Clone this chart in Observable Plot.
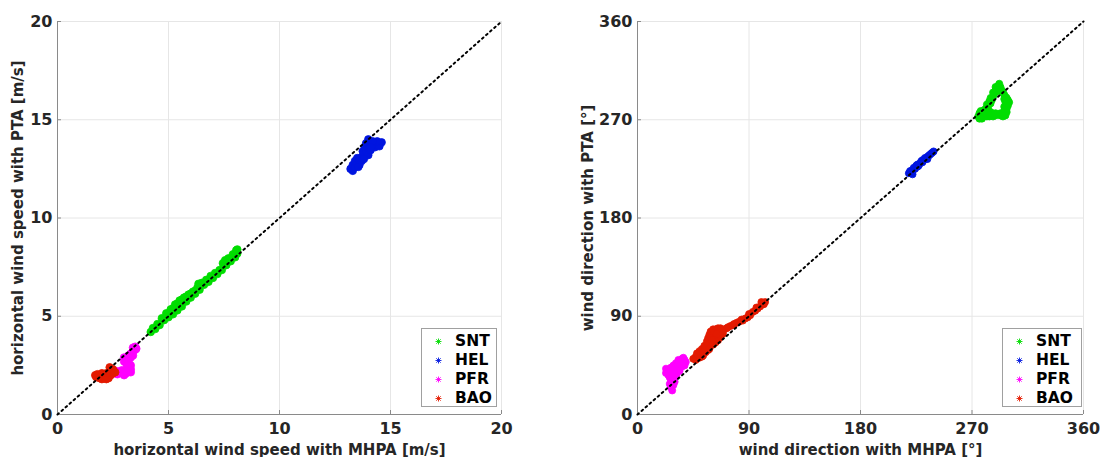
<!DOCTYPE html>
<html>
<head>
<meta charset="utf-8">
<script src="https://cdn.jsdelivr.net/npm/d3@7"></script>
<script src="https://cdn.jsdelivr.net/npm/@observablehq/plot@0.6"></script>
<style>
  html, body { margin: 0; padding: 0; background: white; }
  #wrap { display: flex; width: 1100px; height: 457px; }
  .panel { position: relative; width: 550px; height: 457px; }
  .legend { position: absolute; top: 328px; height: 77px; border: 1px solid #a0a0a0; background: white;
            font-family: "DejaVu Sans", sans-serif; font-weight: bold; font-size: 15.5px; color: #000; }
  .legend .row { position: absolute; left: 0; height: 19px; line-height: 19px; white-space: nowrap; }
  .legend svg { position: absolute; top: 6px; }
  .legend span { position: absolute; }
</style>
</head>
<body>
<div id="wrap"><div class="panel" id="p1"></div><div class="panel" id="p2"></div></div>
<script>
// ---- data ----
const seriesNames = ["SNT", "HEL", "PFR", "BAO"];
const seriesColors = ["#00dd00", "#0015e0", "#ff00ff", "#e31a00"];

const speedTicks = [0, 5, 10, 15, 20];
const dirTicks = [0, 90, 180, 270, 360];
const speedDiag = [[0, 0], [20, 20]];
const dirDiag = [[0, 0], [360, 360]];

// horizontal wind speed [m/s]: [MHPA, PTA]
const sntSpeed = [[4.2,4.2],[4.3,4.4],[4.4,4.35],[4.5,4.6],[4.6,4.55],[4.7,4.9],[4.8,4.8],[4.9,5.15],[5.0,4.95],[5.0,5.05],[5.1,5.35],[5.2,5.1],[5.3,5.6],[5.3,5.45],[5.4,5.3],[5.5,5.8],[5.6,5.5],[5.6,5.65],[5.7,5.95],[5.8,5.75],[5.9,6.1],[5.9,5.95],[6.0,5.95],[6.1,6.25],[6.2,6.15],[6.2,6.3],[6.3,6.45],[6.35,6.65],[6.4,6.35],[6.5,6.7],[6.6,6.6],[6.7,6.85],[6.8,6.75],[6.9,7.05],[7.0,6.95],[7.1,7.2],[7.2,7.15],[7.3,7.35],[7.4,7.35],[7.45,7.7],[7.55,7.85],[7.6,7.6],[7.7,7.95],[7.8,7.8],[7.9,8.15],[8.0,8.0],[8.05,8.35],[8.1,8.2],[8.1,8.4],[5.2,5.4],[5.4,5.65],[5.6,5.85],[5.8,6.0],[5.5,5.55],[5.7,5.75],[6.0,6.15]];
const helSpeed = [[13.2,12.5],[13.3,12.4],[13.3,12.7],[13.4,12.6],[13.4,12.9],[13.5,12.8],[13.5,13.05],[13.6,12.95],[13.7,13.1],[13.7,12.9],[13.8,13.2],[13.75,13.4],[13.9,13.4],[14.0,13.2],[13.85,13.6],[14.0,13.6],[14.1,13.45],[13.9,13.8],[14.0,14.0],[14.1,13.8],[14.2,13.65],[14.3,13.8],[14.3,13.6],[14.4,13.7],[14.5,13.8],[14.6,13.85],[14.5,13.65],[14.4,13.9],[14.2,13.9],[13.6,12.7],[13.8,13.0],[13.55,12.6],[14.1,13.6]];
const pfrSpeed = [[2.6,2.1],[2.7,2.2],[2.7,2.05],[2.8,2.15],[2.9,2.1],[2.9,2.25],[3.0,2.0],[3.0,2.2],[3.1,2.1],[3.1,2.3],[3.2,2.2],[3.3,2.3],[3.3,2.15],[3.2,2.45],[3.1,2.6],[3.0,2.7],[3.0,2.9],[3.1,2.8],[3.2,3.0],[3.3,2.9],[3.2,2.7],[3.3,2.5],[3.3,3.1],[3.4,3.2],[3.4,3.0],[3.5,3.3],[3.5,3.45],[3.4,3.4],[3.55,3.35]];
const baoSpeed = [[1.7,2.0],[1.75,1.9],[1.8,2.05],[1.9,1.85],[1.9,2.0],[2.0,1.8],[2.0,1.95],[2.1,1.85],[2.1,2.05],[2.2,1.8],[2.2,1.95],[2.3,1.85],[2.3,2.1],[2.35,2.4],[2.4,2.25],[2.4,2.0],[2.5,2.1],[2.5,2.3],[2.6,2.15],[2.2,2.1],[2.0,2.1]];

// wind direction [deg]: [MHPA, PTA]
const sntDir = [[275,273],[276,276],[278,275],[279,278],[280,273],[281,280],[282,276],[283,282],[284,273],[285,285],[286,276],[286,288],[287,291],[288,294],[289,297],[290,299],[291,301],[292,303],[293,300],[294,297],[295,295],[296,293],[297,291],[298,290],[299,288],[300,286],[299,283],[298,280],[298,277],[297,274],[295,273],[293,274],[291,275],[289,274],[287,273],[285,277],[283,279],[278,271],[276,271],[277,278],[280,279],[282,284],[284,287],[285,290],[287,295],[289,300],[291,296],[296,289],[297,286],[296,282],[296,278],[293,276],[289,276],[282,273]];
const helDir = [[219,221],[220,223],[221,222],[222,224],[223,226],[224,225],[225,228],[226,229],[227,228],[228,230],[229,232],[230,231],[231,233],[232,235],[233,234],[234,236],[235,237],[236,238],[237,239],[238,240],[239,241],[222,220],[226,227],[230,233],[234,234]];
const pfrDir = [[23,38],[24,41],[25,36],[26,40],[27,43],[28,38],[29,34],[27,31],[26,28],[27,25],[28,22],[29,27],[30,30],[31,36],[32,40],[33,43],[34,46],[35,49],[36,51],[37,52],[38,50],[39,48],[38,45],[36,44],[34,40],[32,38],[30,42],[29,45],[31,47],[33,50],[26,34],[24,39],[35,47],[28,41],[30,38],[32,45],[34,49],[36,47],[23,42],[27,37],[29,30]];
const baoDir = [[45,51],[47,53],[49,52],[50,55],[52,56],[53,54],[54,58],[55,60],[56,62],[57,65],[58,68],[59,71],[60,74],[61,76],[62,73],[63,70],[64,72],[65,75],[66,77],[68,76],[70,78],[72,79],[75,81],[78,83],[80,84],[82,85],[85,86],[87,88],[89,89],[91,91],[93,94],[95,95],[97,97],[99,99],[101,101],[103,103],[60,64],[62,67],[58,62],[52,53],[57,59],[48,56],[50,58],[52,60],[54,63],[56,67],[57,70],[58,73],[59,76],[61,78],[63,78],[65,79],[67,79],[55,57],[58,60],[61,64],[63,66],[65,68],[67,71],[69,74],[62,70],[64,74],[60,68],[47,50],[50,52],[53,57],[56,59],[73,80],[77,82],[84,87],[90,92],[96,98],[100,103],[102,101]];

// ---- build ----
function rows(list) {
  return list.flatMap((pts, i) => pts.map(([x, y]) => ({x, y, s: seriesNames[i]})));
}
const AX = "#8a8a8a", GRID = "#e6e6e6", TXT = "#262626";

function panel({data, ticks, diag, xLabel, yLabel, marginLeft, marginRight, yLabelOffset, r}) {
  const dom = [ticks[0], ticks[ticks.length - 1]];
  return Plot.plot({
    width: 550, height: 457,
    marginLeft, marginRight, marginTop: 21, marginBottom: 43,
    style: {fontFamily: "DejaVu Sans, sans-serif", fontWeight: "bold", fontSize: "15px", color: TXT, background: "white", overflow: "visible"},
    x: {domain: dom},
    y: {domain: dom},
    color: {domain: seriesNames, range: seriesColors},
    marks: [
      Plot.gridX(ticks, {stroke: GRID, strokeOpacity: 1}),
      Plot.gridY(ticks, {stroke: GRID, strokeOpacity: 1}),
      Plot.axisX(ticks, {tickSize: 0, tickPadding: 8, label: null, fontSize: 16, fill: TXT}),
      Plot.axisY(ticks, {tickSize: 0, tickPadding: 5, label: null, fontSize: 16, fill: TXT}),
      Plot.axisX(ticks, {tickSize: 0, text: null, label: xLabel, labelAnchor: "center", labelArrow: "none", labelOffset: 40, fontSize: 15, fill: TXT}),
      Plot.axisY(ticks, {tickSize: 0, text: null, label: yLabel, labelAnchor: "center", labelArrow: "none", labelOffset: yLabelOffset, fontSize: 15, fill: TXT}),
      Plot.axisX(ticks.slice(1), {text: null, label: null, tickSize: 4, dy: -4, stroke: AX}),
      Plot.axisY(ticks.slice(1), {text: null, label: null, tickSize: 4, dx: 4, stroke: AX}),
      Plot.ruleY([dom[0]], {stroke: AX}),
      Plot.ruleX([dom[0]], {stroke: AX}),
      Plot.dot(data, {x: "x", y: "y", fill: "s", stroke: "s", r, strokeWidth: 0.8}),
      Plot.line(diag, {x: d => d[0], y: d => d[1], stroke: "black", strokeWidth: 2, strokeDasharray: "1.8,3.6"})
    ]
  });
}

function legend(left, width) {
  const div = document.createElement("div");
  div.className = "legend";
  div.style.left = left + "px";
  div.style.width = width + "px";
  seriesNames.forEach((name, i) => {
    const row = document.createElement("div");
    row.className = "row";
    row.style.top = (3 + i * 19) + "px";
    row.style.width = width + "px";
    const c = seriesColors[i];
    row.innerHTML = `<svg width="7" height="7" style="left:13px" viewBox="-3.5 -3.5 7 7"><g stroke="${c}" stroke-width="0.9"><line x1="-3" y1="0" x2="3" y2="0"/><line x1="0" y1="-3" x2="0" y2="3"/><line x1="-2.2" y1="-2.2" x2="2.2" y2="2.2"/><line x1="-2.2" y1="2.2" x2="2.2" y2="-2.2"/></g></svg><span style="left:33px">${name}</span>`;
    div.appendChild(row);
  });
  return div;
}

const p1 = document.getElementById("p1");
p1.appendChild(panel({
  data: rows([sntSpeed, helSpeed, pfrSpeed, baoSpeed]),
  ticks: speedTicks, diag: speedDiag,
  xLabel: "horizontal wind speed with MHPA [m/s]",
  yLabel: "horizontal wind speed with PTA [m/s]",
  marginLeft: 57, marginRight: 49, yLabelOffset: 45, r: 3.8
}));
p1.appendChild(legend(421, 74));

const p2 = document.getElementById("p2");
p2.appendChild(panel({
  data: rows([sntDir, helDir, pfrDir, baoDir]),
  ticks: dirTicks, diag: dirDiag,
  xLabel: "wind direction with MHPA [°]",
  yLabel: "wind direction with PTA [°]",
  marginLeft: 87, marginRight: 17, yLabelOffset: 55, r: 3.5
}));
p2.appendChild(legend(452, 78));
</script>
</body>
</html>
